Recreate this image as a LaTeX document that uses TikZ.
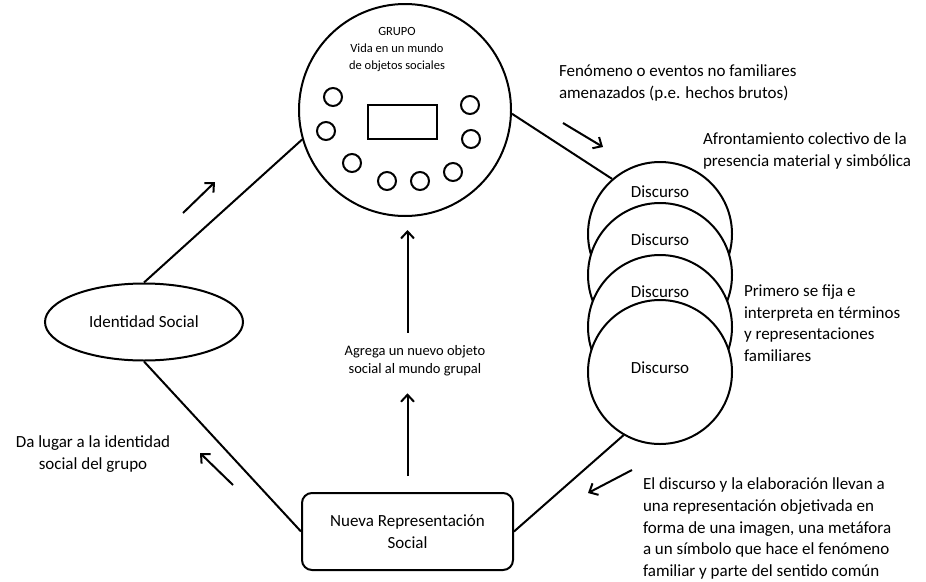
\documentclass[tikz,border=0pt]{standalone}
\usepackage{fontspec}
\setmainfont{Carlito}
\usetikzlibrary{arrows.meta,shapes.geometric,positioning}

\begin{document}
\begin{tikzpicture}[>={Straight Barb[length=7pt,width=13pt]},x=1pt,y=-1pt,line width=2pt]

            \tikzstyle{every node}=[font=\fontsize{17}{21.5}\selectfont,inner sep=0pt]
            \tikzstyle{grupo}=[circle,draw=black,minimum size=212pt]
            \tikzstyle{miembro}=[circle,draw=black,minimum size=18pt]
            \tikzstyle{discurso}=[circle,draw=black,fill=white,minimum size=144pt]
            \tikzstyle{nota}=[anchor=north west,align=left]

            \useasboundingbox (0,0) rectangle (926,581);

            \node[grupo] (grupo) at (405,110) {};
            \node[align=center,anchor=north,font=\fontsize{12.5}{17}\selectfont] (titulo) at (397,26) {GRUPO\\Vida en un mundo\\de objetos sociales};
            \node[draw=black,minimum width=69pt,minimum height=34pt] (marco) at (402.5,122) {};
            \foreach \x/\y [count=\i] in {333/97,326/131,352/163,387/181,420/181,453/172,470/105,471/139}
                \node[miembro] (m\i) at (\x,\y) {};

            \node[ellipse,draw=black,minimum width=198pt,minimum height=77pt] (identidad) at (144,322) {Identidad Social};
            \node[draw=black,rounded corners=10pt,minimum width=211pt,minimum height=77pt,align=center] (nueva) at (407.5,531.5) {Nueva Representación\\Social};

            \foreach \y/\ty [count=\i] in {234/192,275/240,327/292,372/368} {
                \node[discurso] (d\i) at (660,\y) {};
                \node (td\i) at (660,\ty) {Discurso};
            }

            \node[align=center,font=\fontsize{14.5}{18}\selectfont] (agrega) at (415,361) {Agrega un nuevo objeto\\social al mundo grupal};

            \node[nota] (fenomeno) at (558,64) {Fenómeno o eventos no familiares\\amenazados (p.e. hechos brutos)};
            \node[nota] (afronta) at (702,132) {Afrontamiento colectivo de la\\presencia material y simbólica};
            \node[nota] (primero) at (743,284) {Primero se fija e\\interpreta en términos\\y representaciones\\familiares};
            \node[nota,font=\fontsize{17}{21.6}\selectfont] (elabora) at (642,477) {El discurso y la elaboración llevan a\\una representación objetivada en\\forma de una imagen, una metáfora\\a un símbolo que hace el fenómeno\\familiar y parte del sentido común};
            \node[align=center,anchor=north] (dalugar) at (93,435) {Da lugar a la identidad\\social del grupo};

            \draw (grupo.196) -- (identidad.north);
            \draw (identidad.south) -- (nueva.west);
            \draw (nueva.east) -- (d4.240);
            \draw (grupo.358) -- (d1.131);

            \draw[->,shorten <=16pt,shorten >=16pt] (nueva.north) -- (nueva.north |- agrega.south);
            \draw[->,shorten <=12pt,shorten >=13pt] (nueva.north |- agrega.north) -- (nueva.north |- grupo.south);

            \coordinate (f1a) at (183,213); \coordinate (f1b) at (215,182);
            \coordinate (f2a) at (233,485); \coordinate (f2b) at (200,453);
            \coordinate (f3a) at (563,123); \coordinate (f3b) at (603,147);
            \coordinate (f4a) at (632,470); \coordinate (f4b) at (588,493);
            \draw[->] (f1a) -- (f1b);
            \draw[->] (f2a) -- (f2b);
            \draw[->] (f3a) -- (f3b);
            \draw[->] (f4a) -- (f4b);
        \end{tikzpicture}
\end{document}
